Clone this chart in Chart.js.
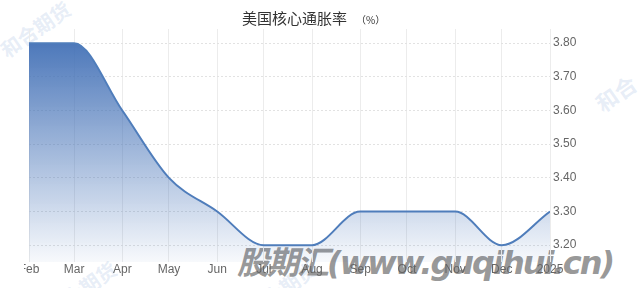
<!DOCTYPE html>
<html>
<head>
<meta charset="utf-8">
<script src="https://cdn.jsdelivr.net/npm/chart.js@4.4.1/dist/chart.umd.min.js"></script>
<style>
  html,body{margin:0;padding:0;background:#fff;width:638px;height:288px;overflow:hidden;position:relative;font-family:"Liberation Sans",Arial,sans-serif;}
  #wrap{position:absolute;left:24px;top:0;width:614px;height:288px;overflow:hidden;z-index:2;}
  #c{position:absolute;left:-32px;top:0;}
  #title{position:absolute;left:242px;top:5px;white-space:nowrap;color:#333;font-family:"Noto Sans CJK SC",sans-serif;z-index:3;}
  #title .m{font-size:15px;}
  #title .u{font-size:10px;margin-left:9px;}
  .wm{position:absolute;white-space:nowrap;pointer-events:none;z-index:1;}
  #wm1{left:237px;top:237px;font-size:32px;font-weight:bold;font-style:italic;color:rgba(125,125,125,0.8);font-family:"DejaVu Sans","Noto Sans CJK SC",sans-serif;letter-spacing:-2px;}
  .faint{color:rgba(175,198,230,0.3);font-family:"Noto Sans CJK SC",sans-serif;font-weight:bold;transform:rotate(-35deg);transform-origin:left top;}
</style>
</head>
<body>
<div id="title"><span class="m">美国核心通胀率</span><span class="u">（%）</span></div>
<div class="wm faint" style="left:-6px;top:40px;font-size:20px;">和合期货</div>
<div class="wm faint" style="left:588px;top:92px;font-size:22px;">和合</div>
<div class="wm faint" style="left:40px;top:300px;font-size:20px;">和合期货</div>
<div class="wm faint" style="left:240px;top:300px;font-size:20px;">和合期货</div>
<div class="wm" id="wm1">股期汇(www.guqihui.cn)</div>
<div id="wrap"><canvas id="c" width="598" height="288"></canvas></div>
<script>
const categories = ["Feb","Mar","Apr","May","Jun","Jul","Aug","Sep","Oct","Nov","Dec","2025"];
const dates = ["2024-02-01","2024-03-01","2024-04-01","2024-05-01","2024-06-01","2024-07-01","2024-08-01","2024-09-01","2024-10-01","2024-11-01","2024-12-01","2025-01-01"];
const values = [3.8,3.8,3.6,3.4,3.3,3.2,3.2,3.3,3.3,3.3,3.2,3.3];
const yTicks = [3.2,3.3,3.4,3.5,3.6,3.7,3.8];

const t0 = Date.parse(dates[0]);
const days = dates.map(d => Math.round((Date.parse(d) - t0) / 86400000));
const points = days.map((d, i) => ({x: d, y: values[i]}));

const ctx = document.getElementById('c').getContext('2d');
new Chart(ctx, {
  type: 'line',
  data: {
    datasets: [{
      data: points,
      borderColor: '#4f7dbb',
      borderWidth: 2,
      pointRadius: 0,
      cubicInterpolationMode: 'monotone',
      fill: 'start',
      backgroundColor: (c) => {
        const a = c.chart.chartArea;
        if (!a) return 'rgba(69,114,180,0.5)';
        const g = c.chart.ctx.createLinearGradient(0, a.top, 0, a.bottom);
        g.addColorStop(0, 'rgba(66,112,182,1)');
        g.addColorStop(1, 'rgba(66,112,182,0.04)');
        return g;
      }
    }]
  },
  options: {
    responsive: false,
    animation: false,
    layout: {padding: {left: 37, top: 29, right: 0, bottom: 0}},
    plugins: {legend: {display: false}, tooltip: {enabled: false}, title: {display: false}},
    scales: {
      x: {
        type: 'linear',
        min: days[0],
        max: days[days.length - 1],
        afterBuildTicks: (s) => { s.ticks = days.map(v => ({value: v})); },
        afterFit: (s) => { s.height = 26; },
        ticks: {
          autoSkip: false, maxRotation: 0, padding: 0,
          color: '#666', font: {size: 12, family: '"Liberation Sans", Arial, sans-serif'},
          callback: (v, i) => categories[i]
        },
        grid: {color: '#ececec', drawTicks: false, lineWidth: 1},
        border: {display: false}
      },
      y: {
        position: 'right',
        min: 3.15,
        max: 3.842,
        afterBuildTicks: (s) => { s.ticks = yTicks.map(v => ({value: v})); },
        afterFit: (s) => { s.width = 40; },
        ticks: {
          padding: 3, align: 'center', crossAlign: 'near',
          color: '#666', font: {size: 12, family: '"Liberation Sans", Arial, sans-serif'},
          callback: (v) => Number(v).toFixed(2)
        },
        grid: {color: '#e2e2e2', drawTicks: false, lineWidth: 1},
        border: {display: false, dash: [2, 2]}
      }
    }
  }
});
</script>
</body>
</html>
